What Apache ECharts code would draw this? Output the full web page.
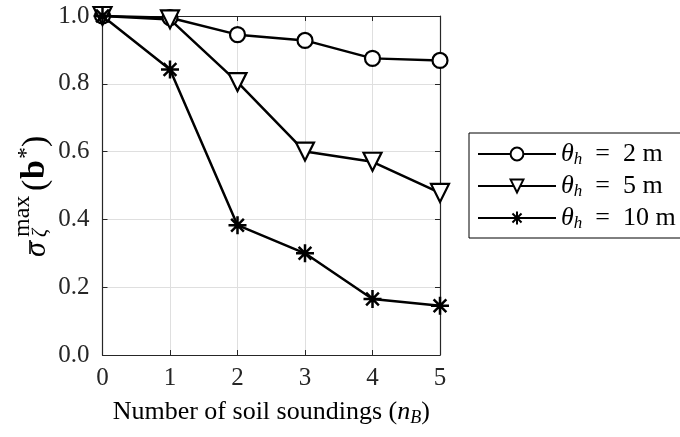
<!DOCTYPE html>
<html><head><meta charset="utf-8">
<script src="https://cdn.jsdelivr.net/npm/echarts@6/dist/echarts.min.js"></script>
<style>html,body{margin:0;padding:0;background:#fff}#c{width:680px;height:437px}</style>
</head><body><div id="c"></div>
<script>
const categories = [0, 1, 2, 3, 4, 5];
const yTicks = [0.0, 0.2, 0.4, 0.6, 0.8, 1.0];
const theta2 = [1.0, 0.995, 0.945, 0.928, 0.875, 0.869];
const theta5 = [1.0, 0.990, 0.805, 0.600, 0.570, 0.478];
const theta10 = [1.0, 0.842, 0.383, 0.300, 0.165, 0.145];
const seriesLabels = ['2', '5', '10'];

const F = '"Liberation Serif", "DejaVu Serif", serif';
const star = 'path://M0,-10L0,10M-10,0L10,0M-7.07,-7.07L7.07,7.07M-7.07,7.07L7.07,-7.07';
const triDown = 'path://M-10,-6L10,-6L0,11.3Z';
const AX = '#262626';
const chart = echarts.init(document.getElementById('c'));
function mk(name, data, symbol, size, bw) {
  return {
    name: name, type: 'line', data: data.map((v, i) => [categories[i], v]),
    symbol: symbol, symbolSize: size, showAllSymbol: true,
    lineStyle: {color: '#000', width: 2.5},
    itemStyle: {color: symbol === star ? '#000' : '#fff', borderColor: '#000', borderWidth: bw},
    emphasis: {disabled: true}, animation: false, z: 3
  };
}
const names = seriesLabels.map(s => 'θh = ' + s + ' m');
const t = (text, x, y, font, extra) => ({type: 'text', x: x, y: y, silent: true,
  style: Object.assign({text: text, font: font, fill: '#000', textAlign: 'left', textVerticalAlign: 'bottom'}, extra || {})});
chart.setOption({
  backgroundColor: '#fff',
  animation: false,
  grid: {left: 102.5, right: 240, top: 16, bottom: 82},
  graphic: [{
    type: 'group', x: 45, y: 257, rotation: Math.PI / 2,
    children: [
      t('σ', 0, 7, 'italic 30px ' + F),
      {type: 'line', silent: true, shape: {x1: 3, y1: -15, x2: 17, y2: -15}, style: {stroke: '#000', lineWidth: 1.6}},
      t('max', 20, -10, '24px ' + F),
      t('ζ', 20, 6, 'italic 20px ' + F),
      t('(', 66, 8, '34px ' + F),
      t('b', 78, 7, 'bold 34px ' + F),
      t('*', 98, -6, '24px ' + F),
      t(')', 110, 8, '34px ' + F)
    ]
  }],
  legend: {
    left: 469, top: 133, orient: 'vertical',
    itemWidth: 78, itemHeight: 16, itemGap: 4,
    padding: [7, 20, 6, 8],
    borderColor: '#000', borderWidth: 1, backgroundColor: '#fff',
    data: names,
    formatter: function (n) { const k = names.indexOf(n); return '{i|θ}{s|h}{t|  =  ' + seriesLabels[k] + ' m}'; },
    textStyle: {
      fontFamily: F, fontSize: 26, color: '#000', lineHeight: 27,
      rich: {
        i: {fontFamily: F, fontStyle: 'italic', fontSize: 26, color: '#000', lineHeight: 27},
        s: {fontFamily: F, fontStyle: 'italic', fontSize: 17, color: '#000', lineHeight: 27, padding: [11, 0, 0, 0]},
        t: {fontFamily: F, fontSize: 26, color: '#000', lineHeight: 27}
      }
    }
  },
  xAxis: [{
    type: 'value', min: 0, max: 5, interval: 1,
    name: '{a|Number of soil soundings (}{i|n}{s|B}{a|)}',
    nameLocation: 'middle', nameGap: 42,
    nameTextStyle: {fontFamily: F, fontSize: 26, color: '#000',
      rich: {a: {fontFamily: F, fontSize: 26, color: '#000'}, i: {fontFamily: F, fontStyle: 'italic', fontSize: 26, color: '#000'},
        s: {fontFamily: F, fontStyle: 'italic', fontSize: 18, color: '#000', padding: [12, 0, 0, 0]}}},
    axisLine: {onZero: false, lineStyle: {color: AX, width: 1.2}},
    axisTick: {inside: true, length: 5, lineStyle: {color: AX}},
    axisLabel: {fontFamily: F, fontSize: 25, color: AX, margin: 11},
    splitLine: {show: true, lineStyle: {color: '#dfdfdf', width: 1}}
  }, {
    type: 'value', min: 0, max: 5, interval: 1, position: 'top',
    axisLine: {show: true, onZero: false, lineStyle: {color: AX, width: 1.2}},
    axisTick: {show: true, inside: true, length: 5, lineStyle: {color: AX}},
    axisLabel: {show: false}, splitLine: {show: false}
  }],
  yAxis: [{
    type: 'value', min: 0, max: 1, interval: 0.2,
    axisLine: {show: true, onZero: false, lineStyle: {color: AX, width: 1.2}},
    axisTick: {show: true, inside: true, length: 5, lineStyle: {color: AX}},
    axisLabel: {fontFamily: F, fontSize: 25, color: AX, margin: 13,
      formatter: v => { const tk = yTicks.find(x => Math.abs(x - v) < 1e-9); return (tk !== undefined ? tk : v).toFixed(1); }},
    splitLine: {show: true, lineStyle: {color: '#dfdfdf', width: 1}}
  }, {
    type: 'value', min: 0, max: 1, interval: 0.2, position: 'right',
    axisLine: {show: true, onZero: false, lineStyle: {color: AX, width: 1.2}},
    axisTick: {show: true, inside: true, length: 5, lineStyle: {color: AX}},
    axisLabel: {show: false}, splitLine: {show: false}
  }],
  series: [
    mk(names[0], theta2, 'circle', 15, 2.2),
    mk(names[1], theta5, triDown, 18, 2.2),
    mk(names[2], theta10, star, 18, 2.5)
  ]
});
</script></body></html>
